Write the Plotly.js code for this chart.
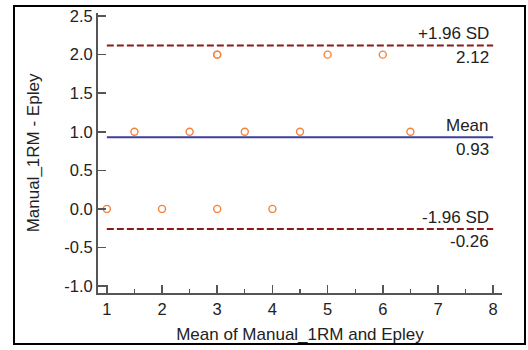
<!DOCTYPE html>
<html>
<head>
<meta charset="utf-8">
<script src="https://cdn.plot.ly/plotly-3.0.1.min.js"></script>
<style>
html,body{margin:0;padding:0;background:#fff;}
#wrap{position:relative;width:528px;height:350px;}
#chart{width:528px;height:350px;}
#frame{position:absolute;left:13px;top:5px;width:509px;height:336px;border:2.5px solid #000;pointer-events:none;}
</style>
</head>
<body>
<div id="wrap"><div id="chart"></div><div id="frame"></div></div>
<script>
// Bland-Altman data
const meanValues = [1, 1.5, 2, 2.5, 3, 3, 3, 3.5, 4, 4.5, 5, 6, 6.5];
const diffValues = [0, 1, 0, 1, 2, 2, 0, 1, 0, 1, 2, 2, 1];
const lineX = [1, 8];
const meanDiff = 0.93;
const upperLoA = 2.12;
const lowerLoA = -0.26;
const yTicks = [-1.0, -0.5, 0.0, 0.5, 1.0, 1.5, 2.0, 2.5];
const xTicks = [1, 2, 3, 4, 5, 6, 7, 8];

const fontFam = 'Liberation Sans, Arial, sans-serif';
const txtColor = '#222';
const lrColor = '#8b1a1a';
const meanColor = '#3f3f9e';

const traces = [
  {x: lineX, y: [upperLoA, upperLoA], mode: 'lines', line: {color: lrColor, width: 2, dash: '7px,3px'}, hoverinfo: 'skip'},
  {x: lineX, y: [lowerLoA, lowerLoA], mode: 'lines', line: {color: lrColor, width: 2, dash: '7px,3px'}, hoverinfo: 'skip'},
  {x: lineX, y: [meanDiff, meanDiff], mode: 'lines', line: {color: meanColor, width: 2}, hoverinfo: 'skip'},
  {x: meanValues, y: diffValues, mode: 'markers', cliponaxis: false,
   marker: {symbol: 'circle-open', size: 7, color: '#f5823a', line: {width: 1.4, color: '#f5823a'}}}
];

function lab(text, y, above) {
  return {xref: 'x', yref: 'y', x: 8, y: y, text: text, showarrow: false,
    xanchor: 'right', yanchor: above ? 'bottom' : 'top', xshift: -2, yshift: above ? 0 : -1,
    font: {family: fontFam, size: 17, color: txtColor}};
}

const layout = {
  width: 528, height: 350,
  margin: {l: 98, r: 26, t: 13, b: 57},
  paper_bgcolor: '#fff', plot_bgcolor: '#fff',
  showlegend: false,
  font: {family: fontFam, size: 16, color: txtColor},
  xaxis: {
    range: [0.84, 8.16], tickvals: xTicks, ticktext: xTicks.map(String),
    showgrid: false, zeroline: false, showline: true, linecolor: '#555', linewidth: 2,
    ticks: 'inside', ticklen: 8, tickwidth: 1.5, tickcolor: '#555',
    minor: {ticks: 'inside', ticklen: 4, tickwidth: 1.2, tickcolor: '#555', dtick: 0.5, tick0: 0.5, showgrid: false},
    tickfont: {family: fontFam, size: 16.5, color: txtColor},
    title: {text: 'Mean of Manual_1RM and Epley', font: {family: fontFam, size: 17, color: txtColor}, standoff: 11},
    fixedrange: true
  },
  yaxis: {
    range: [-1.09, 2.54], tickvals: yTicks, ticktext: yTicks.map(v => v.toFixed(1)),
    showgrid: false, zeroline: false, showline: true, linecolor: '#555', linewidth: 2,
    ticks: 'inside', ticklen: 8, tickwidth: 1.5, tickcolor: '#555',
    tickfont: {family: fontFam, size: 16.5, color: txtColor},
    title: {text: 'Manual_1RM - Epley', font: {family: fontFam, size: 17, color: txtColor}, standoff: 20},
    fixedrange: true
  },
  annotations: [
    lab('+1.96 SD', upperLoA, true),
    lab(upperLoA.toFixed(2), upperLoA, false),
    lab('Mean', meanDiff, true),
    lab(meanDiff.toFixed(2), meanDiff, false),
    lab('-1.96 SD', lowerLoA, true),
    lab(lowerLoA.toFixed(2), lowerLoA, false)
  ]
};

Plotly.newPlot('chart', traces, layout, {displayModeBar: false, staticPlot: true});
</script>
</body>
</html>
